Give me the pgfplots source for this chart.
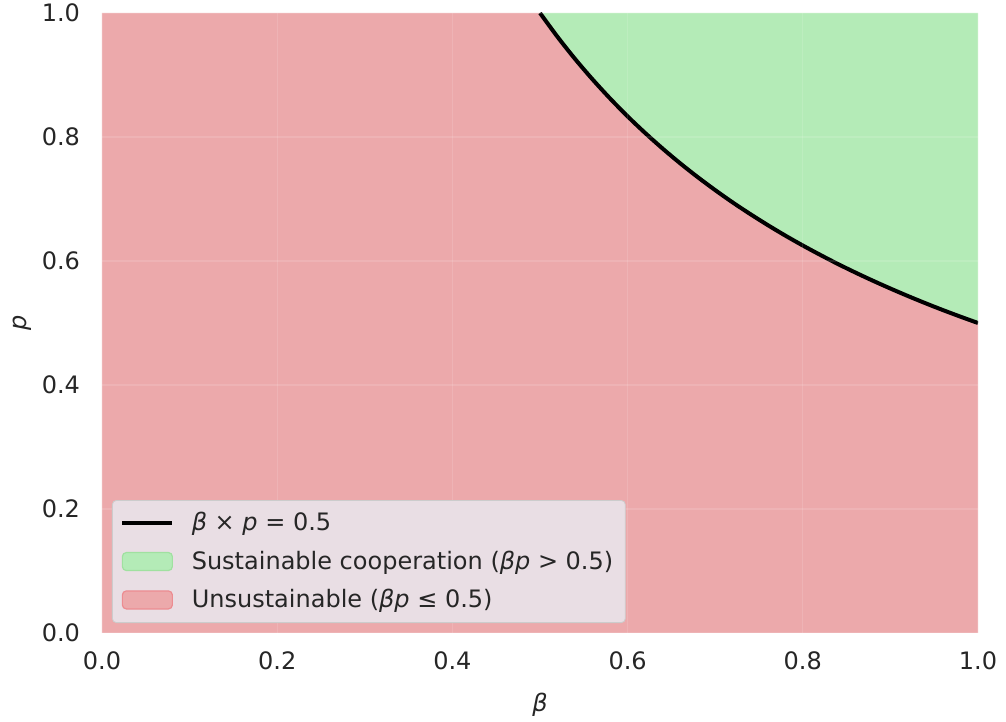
\documentclass[border=0pt]{standalone}
\usepackage{pgfplots}
\pgfplotsset{compat=1.18}
\usepackage{fontspec}
\setmainfont{DejaVu Sans}
\definecolor{redfill}{RGB}{236,169,171}
\definecolor{greenfill}{RGB}{180,235,183}
\definecolor{legbg}{RGB}{233,222,228}
\definecolor{txt}{RGB}{38,38,38}
\begin{document}
\begin{tikzpicture}
\begin{axis}[
  scale only axis,
  width=438pt, height=310pt,
  xmin=0, xmax=1, ymin=0, ymax=1,
  axis line style={draw=none},
  major tick length=0pt,
  xtick={0,0.2,0.4,0.6,0.8,1.0},
  ytick={0,0.2,0.4,0.6,0.8,1.0},
  grid=major,
  grid style={white, opacity=0.12, line width=0.6pt},
  axis on top,
  font=\fontsize{12}{14}\selectfont\color{txt},
  xticklabel={\pgfmathprintnumber[fixed,fixed zerofill,precision=1,assume math mode=true]{\tick}},
  yticklabel={\pgfmathprintnumber[fixed,fixed zerofill,precision=1,assume math mode=true]{\tick}},
  yticklabel style={xshift=-7.5pt},
  xticklabel style={yshift=-6pt},
  xlabel={\textit{β}},
  ylabel={\textit{p}},
  xlabel style={at={(axis description cs:0.5,-0.116)}, anchor=center},
  ylabel style={at={(axis description cs:-0.0913,0.5)}, anchor=center},
  legend style={at={(axis description cs:0.0114,0.0161)}, anchor=south west,
    fill=legbg, draw={rgb,255:red,204;green,204;blue,204}, rounded corners=2pt,
    font=\fontsize{12}{14}\selectfont\color{txt}, row sep=4.5pt,
    inner xsep=4pt, inner ysep=4pt},
  legend cell align=left,
]
\addplot[fill=redfill, draw=none, forget plot] coordinates {
(0,0) (0,1) (0.50,1.0)
(0.52,0.9615) (0.54,0.9259) (0.56,0.8929) (0.58,0.8621) (0.60,0.8333)
(0.62,0.8065) (0.64,0.7813) (0.66,0.7576) (0.68,0.7353) (0.70,0.7143)
(0.72,0.6944) (0.74,0.6757) (0.76,0.6579) (0.78,0.6410) (0.80,0.6250)
(0.82,0.6098) (0.84,0.5952) (0.86,0.5814) (0.88,0.5682) (0.90,0.5556)
(0.92,0.5435) (0.94,0.5319) (0.96,0.5208) (0.98,0.5102) (1.00,0.5000)
(1,0)} \closedcycle;
\addplot[fill=greenfill, draw=none, forget plot] coordinates {
(0.50,1.0)
(0.52,0.9615) (0.54,0.9259) (0.56,0.8929) (0.58,0.8621) (0.60,0.8333)
(0.62,0.8065) (0.64,0.7813) (0.66,0.7576) (0.68,0.7353) (0.70,0.7143)
(0.72,0.6944) (0.74,0.6757) (0.76,0.6579) (0.78,0.6410) (0.80,0.6250)
(0.82,0.6098) (0.84,0.5952) (0.86,0.5814) (0.88,0.5682) (0.90,0.5556)
(0.92,0.5435) (0.94,0.5319) (0.96,0.5208) (0.98,0.5102) (1.00,0.5000)
(1,1)} -- cycle;
\addplot[black, line width=2pt, forget plot, smooth] coordinates {
(0.50,1.0)
(0.52,0.9615) (0.54,0.9259) (0.56,0.8929) (0.58,0.8621) (0.60,0.8333)
(0.62,0.8065) (0.64,0.7813) (0.66,0.7576) (0.68,0.7353) (0.70,0.7143)
(0.72,0.6944) (0.74,0.6757) (0.76,0.6579) (0.78,0.6410) (0.80,0.6250)
(0.82,0.6098) (0.84,0.5952) (0.86,0.5814) (0.88,0.5682) (0.90,0.5556)
(0.92,0.5435) (0.94,0.5319) (0.96,0.5208) (0.98,0.5102) (1.00,0.5000)};
\addlegendimage{legend image code/.code={\draw[black, line width=2pt] (0pt,0pt) -- (25pt,0pt); \path (32.5pt,0pt);}}
\addlegendentry{\textit{β} × \textit{p} = 0.5}
\addlegendimage{legend image code/.code={\filldraw[fill=greenfill, draw={rgb,255:red,160;green,225;blue,160}, line width=0.6pt] (0pt,-4.5pt) rectangle (25pt,4.5pt); \path (32.5pt,0pt);}}
\addlegendentry{Sustainable cooperation (\textit{βp} > 0.5)}
\addlegendimage{legend image code/.code={\filldraw[fill=redfill, draw={rgb,255:red,236;green,140;blue,145}, line width=0.6pt] (0pt,-4.5pt) rectangle (25pt,4.5pt); \path (32.5pt,0pt);}}
\addlegendentry{Unsustainable (\textit{βp} ≤ 0.5)}
\end{axis}
\pgfresetboundingbox
\path[use as bounding box] (-51pt,-44.5pt) rectangle (452pt,316.5pt);
\end{tikzpicture}
\end{document}
